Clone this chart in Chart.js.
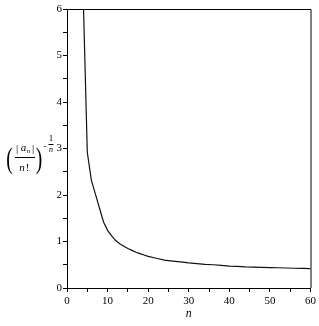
<!DOCTYPE html>
<html>
<head>
<meta charset="utf-8">
<script src="https://cdn.jsdelivr.net/npm/chart.js@4"></script>
<style>
  html, body { margin: 0; padding: 0; background: #fff; }
  #wrap { width: 319px; height: 326px; position: relative; }
</style>
</head>
<body>
<div id="wrap"><canvas id="seqChart"></canvas></div>
<script>
// n values and the plotted quantity (|a_n|/n!)^(-1/n)
const nValues = [4, 5, 6, 7, 8, 9, 10, 11, 12, 13, 14, 15, 16, 17, 18, 19, 20,
  22, 24, 26, 28, 30, 32, 34, 36, 38, 40, 42, 44, 46, 48, 50, 52, 54, 56, 58, 60];
const ratioValues = [6.25, 2.92, 2.32, 2.02, 1.72, 1.42, 1.24, 1.12, 1.02, 0.95, 0.90, 0.85, 0.81, 0.77, 0.74, 0.71, 0.68,
  0.64, 0.60, 0.58, 0.56, 0.54, 0.525, 0.51, 0.50, 0.485, 0.47, 0.465, 0.455, 0.45, 0.445, 0.44, 0.435, 0.43, 0.425, 0.42, 0.415];

const xTicks = [0, 10, 20, 30, 40, 50, 60];
const yTicks = [0, 1, 2, 3, 4, 5, 6];

const SERIF = '"Liberation Serif", "Times New Roman", serif';

// Box around the plot area plus the math label on the left
const framePlugin = {
  id: 'frame',
  afterDraw(chart) {
    const { ctx, chartArea: a } = chart;
    ctx.save();
    ctx.strokeStyle = '#000';
    ctx.lineWidth = 1;
    ctx.beginPath();
    ctx.moveTo(a.left, a.top + 0.5);
    ctx.lineTo(a.right + 0.5, a.top + 0.5);
    ctx.lineTo(a.right + 0.5, a.bottom);
    ctx.stroke();

    // ( |a_n| / n! ) ^ (-1/n)
    ctx.fillStyle = '#000';
    ctx.textAlign = 'center';
    ctx.textBaseline = 'alphabetic';
    ctx.font = '11px ' + SERIF;
    ctx.fillText('|', 17, 152);
    ctx.fillText('|', 33, 152);
    ctx.font = 'italic 11px ' + SERIF;
    ctx.fillText('a', 23.5, 151);
    ctx.font = 'italic 7px ' + SERIF;
    ctx.fillText('n', 28.5, 153);
    ctx.beginPath();
    ctx.moveTo(15, 157.5);
    ctx.lineTo(35, 157.5);
    ctx.stroke();
    ctx.font = 'italic 11px ' + SERIF;
    ctx.fillText('n', 22, 171);
    ctx.font = '11px ' + SERIF;
    ctx.fillText('!', 27.5, 171);

    // big parentheses
    ctx.font = '30px ' + SERIF;
    ctx.save();
    ctx.scale(0.65, 1);
    ctx.fillText('(', 9.5 / 0.65, 168);
    ctx.fillText(')', 39 / 0.65, 168);
    ctx.restore();

    // exponent -1/n
    ctx.font = '9px ' + SERIF;
    ctx.fillText('-', 45, 149);
    ctx.fillText('1', 51, 141);
    ctx.beginPath();
    ctx.moveTo(48.5, 144.5);
    ctx.lineTo(53.5, 144.5);
    ctx.stroke();
    ctx.font = 'italic 8px ' + SERIF;
    ctx.fillText('n', 51, 152);
    ctx.restore();
  }
};

new Chart(document.getElementById('seqChart'), {
  type: 'line',
  data: {
    datasets: [{
      data: nValues.map((n, i) => ({ x: n, y: ratioValues[i] })),
      borderColor: '#111',
      borderWidth: 1.2,
      pointRadius: 0,
      tension: 0,
      fill: false
    }]
  },
  options: {
    responsive: true,
    maintainAspectRatio: false,
    animation: false,
    layout: { padding: { top: 9, right: 8, left: 0, bottom: 0 } },
    plugins: {
      legend: { display: false },
      tooltip: { enabled: false }
    },
    scales: {
      x: {
        type: 'linear',
        min: 0,
        max: 60,
        afterFit(scale) { scale.height = 38; },
        title: {
          display: true,
          text: 'n',
          color: '#000',
          font: { family: SERIF, size: 12, style: 'italic' },
          padding: { top: 0, bottom: 5 }
        },
        grid: {
          drawOnChartArea: false,
          drawTicks: true,
          tickLength: 4,
          color: '#000'
        },
        border: { color: '#000', width: 1 },
        ticks: {
          stepSize: 5,
          padding: 3,
          color: '#000',
          maxRotation: 0,
          autoSkip: false,
          font: { family: SERIF, size: 11 },
          callback: value => xTicks.includes(value) ? String(value) : ''
        }
      },
      y: {
        type: 'linear',
        min: 0,
        max: 6,
        afterFit(scale) { scale.width = 67; },
        grid: {
          drawOnChartArea: false,
          drawTicks: true,
          tickLength: 4,
          color: '#000'
        },
        border: { color: '#000', width: 1 },
        ticks: {
          stepSize: 0.5,
          padding: 1,
          color: '#000',
          autoSkip: false,
          font: { family: SERIF, size: 11 },
          callback: value => yTicks.includes(value) ? String(value) : ''
        }
      }
    }
  },
  plugins: [framePlugin]
});
</script>
</body>
</html>
